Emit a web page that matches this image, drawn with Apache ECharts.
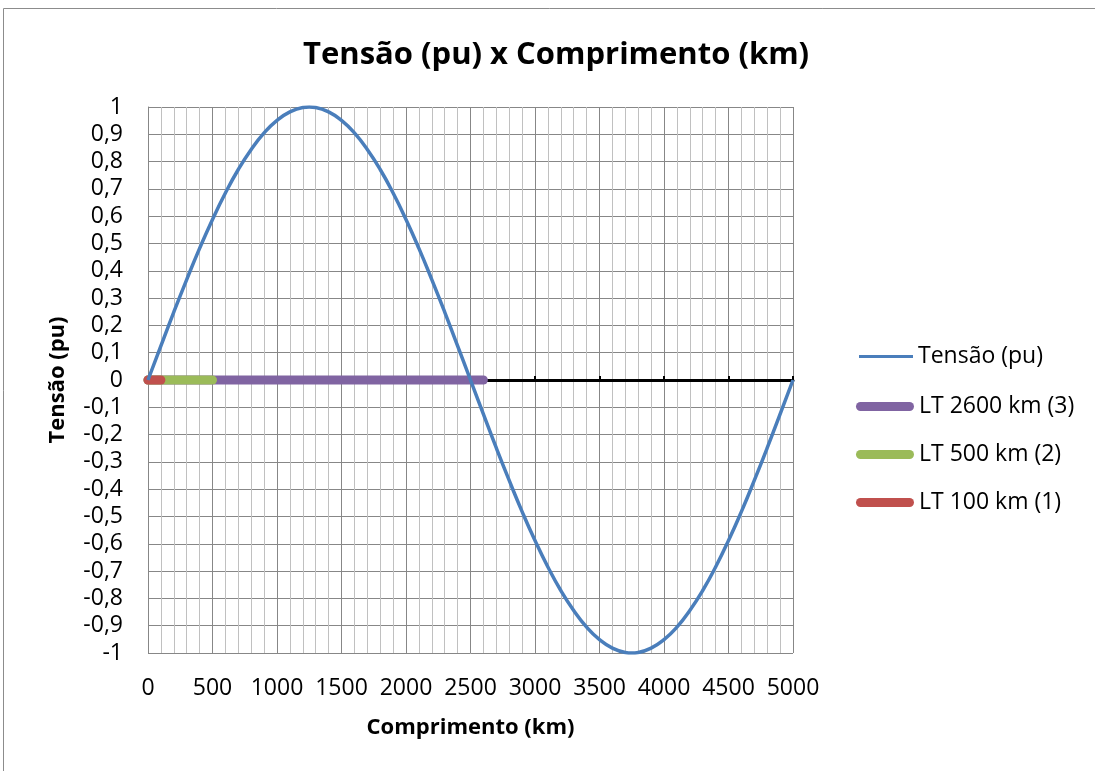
<!DOCTYPE html>
<html><head><meta charset="utf-8">
<script src="https://cdn.jsdelivr.net/npm/echarts@6/dist/echarts.min.js"></script>
<style>html,body{margin:0;padding:0;background:#fff}#c{width:1095px;height:771px}</style>
</head><body><div id="c"></div>
<script>
// Distance along the line (km)
const comprimento = [0,100,200,300,400,500,600,700,800,900,1000,1100,1200,1250,1300,1400,1500,1600,1700,1800,1900,2000,2100,2200,2300,2400,2500,2600,2700,2800,2900,3000,3100,3200,3300,3400,3500,3600,3700,3750,3800,3900,4000,4100,4200,4300,4400,4500,4600,4700,4800,4900,5000];
// Voltage (pu)
const tensao = [0,0.125,0.249,0.368,0.482,0.588,0.685,0.771,0.844,0.905,0.951,0.982,0.998,1.0,0.998,0.982,0.951,0.905,0.844,0.771,0.685,0.588,0.482,0.368,0.249,0.125,0,-0.125,-0.249,-0.368,-0.482,-0.588,-0.685,-0.771,-0.844,-0.905,-0.951,-0.982,-0.998,-1.0,-0.998,-0.982,-0.951,-0.905,-0.844,-0.771,-0.685,-0.588,-0.482,-0.368,-0.249,-0.125,0];
// Transmission line segments [start km, end km] at 0 pu
const lt2600 = [0, 2600];
const lt500 = [0, 500];
const lt100 = [0, 100];
const seriesNames = ['Tensão (pu)','LT 2600 km (3)','LT 500 km (2)','LT 100 km (1)'];
const xTicks = [0,500,1000,1500,2000,2500,3000,3500,4000,4500,5000];

const FONT = 'Open Sans';
const colors = ['#4a7ebb', '#8064a2', '#9bbb59', '#c0504d'];
const thickIcon = 'path://M4.5,0H53.5A4.5,4.5,0,0,1,53.5,9H4.5A4.5,4.5,0,0,1,4.5,0Z';
const chart = echarts.init(document.getElementById('c'));
const seg = (r) => r.map(v => [v, 0]);
const legendText = {fontFamily: FONT, fontSize: 23, color: '#000'};
chart.setOption({
  backgroundColor: '#fff',
  animation: false,
  title: {
    text: 'Tensão (pu) x Comprimento (km)', left: 298, top: 35,
    textStyle: {fontFamily: FONT, fontSize: 31, fontWeight: 'bold', color: '#000'}
  },
  graphic: [{type: 'rect', shape: {x: 3.5, y: 8.5, width: 1100, height: 800}, style: {fill: 'none', stroke: '#8c8c8c', lineWidth: 1}, silent: true}],
  legend: [{
    orient: 'vertical', left: 859, top: 345, padding: 0, itemWidth: 54, itemHeight: 3, icon: 'rect',
    data: [seriesNames[0]], textStyle: legendText
  }, {
    orient: 'vertical', left: 856, top: 395, padding: 0, itemGap: 25, itemWidth: 58, itemHeight: 9, icon: thickIcon,
    data: seriesNames.slice(1), textStyle: legendText
  }],
  grid: {left: 148, right: 302, top: 107, bottom: 118, containLabel: false},
  xAxis: [{
    type: 'value', min: 0, max: 5000, interval: 500, position: 'bottom',
    axisLine: {show: false, onZero: false}, axisTick: {show: false},
    axisLabel: {margin: 24, fontFamily: FONT, fontSize: 23, color: '#000', formatter: v => xTicks.includes(v) ? String(v) : ''},
    splitLine: {show: true, lineStyle: {color: '#878787', width: 1}},
    minorTick: {show: false, splitNumber: 5},
    minorSplitLine: {show: true, lineStyle: {color: '#c0c0c0', width: 1}},
    name: 'Comprimento (km)', nameLocation: 'middle', nameGap: 64,
    nameTextStyle: {fontFamily: FONT, fontSize: 22, fontWeight: 'bold', color: '#000'}
  }, {
    type: 'value', min: 0, max: 5000, interval: 500,
    axisLine: {show: true, onZero: true, lineStyle: {color: '#000', width: 3}},
    axisTick: {show: true, inside: false, length: 4, lineStyle: {color: '#000', width: 2}},
    axisLabel: {show: false}, splitLine: {show: false}
  }],
  yAxis: {
    type: 'value', min: -1, max: 1, interval: 0.1,
    axisLine: {show: true, onZero: false, lineStyle: {color: '#878787', width: 1}},
    axisTick: {show: false},
    axisLabel: {margin: 25, fontFamily: FONT, fontSize: 23, color: '#000',
      formatter: v => { const r = Math.round(v * 10) / 10; return r === 0 ? '0' : String(r).replace('.', ','); }},
    splitLine: {show: true, lineStyle: {color: '#878787', width: 1}},
    name: 'Tensão (pu)', nameLocation: 'middle', nameGap: 79,
    nameTextStyle: {fontFamily: FONT, fontSize: 22, fontWeight: 'bold', color: '#000'}
  },
  series: [
    {name: seriesNames[0], type: 'line', xAxisIndex: 0, data: comprimento.map((x, i) => [x, tensao[i]]),
     smooth: true, showSymbol: false, symbol: 'none', z: 10,
     lineStyle: {color: colors[0], width: 3.5}, itemStyle: {color: colors[0]}},
    {name: seriesNames[1], type: 'line', xAxisIndex: 0, data: seg(lt2600), showSymbol: false, symbol: 'none', z: 5,
     lineStyle: {color: colors[1], width: 9, cap: 'round'}, itemStyle: {color: colors[1]}},
    {name: seriesNames[2], type: 'line', xAxisIndex: 0, data: seg(lt500), showSymbol: false, symbol: 'none', z: 6,
     lineStyle: {color: colors[2], width: 9, cap: 'round'}, itemStyle: {color: colors[2]}},
    {name: seriesNames[3], type: 'line', xAxisIndex: 0, data: seg(lt100), showSymbol: false, symbol: 'none', z: 7,
     lineStyle: {color: colors[3], width: 9, cap: 'round'}, itemStyle: {color: colors[3]}}
  ]
});
</script></body></html>
